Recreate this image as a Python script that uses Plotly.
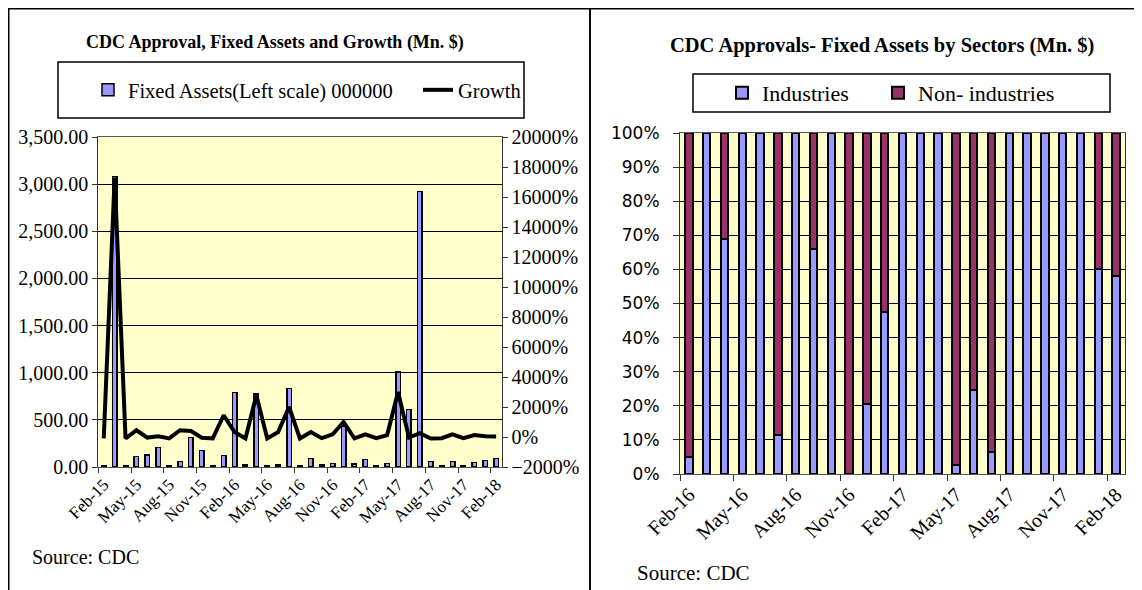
import plotly.graph_objects as go

# the page body has an 8px margin, so the figure is drawn 8px smaller
# and every reference pixel position is shifted by that offset
OFF = 8
W, H = 1142 - OFF, 590 - OFF

# left chart data (monthly, Feb-15 .. Feb-18)
months_left = ["Feb-15", "Mar-15", "Apr-15", "May-15", "Jun-15", "Jul-15", "Aug-15", "Sep-15", "Oct-15",
               "Nov-15", "Dec-15", "Jan-16", "Feb-16", "Mar-16", "Apr-16", "May-16", "Jun-16", "Jul-16",
               "Aug-16", "Sep-16", "Oct-16", "Nov-16", "Dec-16", "Jan-17", "Feb-17", "Mar-17", "Apr-17",
               "May-17", "Jun-17", "Jul-17", "Aug-17", "Sep-17", "Oct-17", "Nov-17", "Dec-17", "Jan-18",
               "Feb-18"]
fixed_assets = [10, 3080, 10, 110, 127, 209, 15, 56, 315, 173, 12, 124, 789, 20, 772, 10, 20, 835, 10,
                92, 21, 39, 435, 30, 82, 15, 35, 1005, 612, 2923, 56, 15, 56, 15, 46, 67, 92]
growth = [-90, 17300, -100, 450, -40, 50, -93, 450, 400, -45, -93, 1450, 330, -97, 2780, -99, 330, 2000,
          -99, 330, -77, 180, 1000, -93, 180, -80, 130, 3000, -40, 250, -98, -80, 180, -80, 130, 45, 40]

# right chart data (Feb-16 .. Feb-18), shares in %
months_right = ["Feb-16", "Mar-16", "Apr-16", "May-16", "Jun-16", "Jul-16", "Aug-16", "Sep-16", "Oct-16",
                "Nov-16", "Dec-16", "Jan-17", "Feb-17", "Mar-17", "Apr-17", "May-17", "Jun-17", "Jul-17",
                "Aug-17", "Sep-17", "Oct-17", "Nov-17", "Dec-17", "Jan-18", "Feb-18"]
industries = [5, 100, 69, 100, 100, 11.5, 100, 66, 100, 0, 20.5, 47.5, 100, 100, 100, 2.5, 24.5, 6.5,
              100, 100, 100, 100, 100, 60, 58]
non_industries = [95, 0, 31, 0, 0, 88.5, 0, 34, 0, 100, 79.5, 52.5, 0, 0, 0, 97.5, 75.5, 93.5,
                  0, 0, 0, 0, 0, 40, 42]

LAV = "#9999FF"
MAROON = "#993366"
SERIF = "Liberation Serif, Times New Roman, serif"


def px_x(x):
    return (x - OFF) / W


def px_y(y):
    return 1 - (y - OFF) / H


xl = list(range(len(months_left)))
xr = list(range(len(months_right)))

fig = go.Figure()

fig.add_trace(go.Bar(x=xl, y=fixed_assets, name="Fixed Assets(Left scale) 000000", width=0.42,
                     marker=dict(color=LAV, line=dict(color="black", width=1.5)),
                     xaxis="x", yaxis="y", legend="legend", showlegend=True))
fig.add_trace(go.Scatter(x=xl, y=growth, name="Growth", mode="lines",
                         line=dict(color="black", width=4),
                         xaxis="x", yaxis="y2", legend="legend3", showlegend=True))

fig.add_trace(go.Bar(x=xr, y=industries, name="Industries", width=0.42,
                     marker=dict(color=LAV, line=dict(color="black", width=2)),
                     xaxis="x3", yaxis="y3", legend="legend2", showlegend=True))
fig.add_trace(go.Bar(x=xr, y=non_industries, name="Non- industries", width=0.42,
                     marker=dict(color=MAROON, line=dict(color="black", width=2)),
                     xaxis="x3", yaxis="y3", legend="legend4", showlegend=True))


def legend_at(x, y, size):
    # one legend per item, so every key sits where the reference has it
    return dict(orientation="h", x=px_x(x), xanchor="left", y=px_y(y), yanchor="middle",
                bgcolor="rgba(0,0,0,0)", borderwidth=0, font=dict(size=size, family=SERIF))


fig.update_layout(
    width=W, height=H, autosize=False,
    margin=dict(l=0, r=0, t=0, b=0, pad=0, autoexpand=False),
    paper_bgcolor="white",
    plot_bgcolor="#FFFFCC",
    barmode="stack",
    showlegend=True,
    font=dict(family=SERIF, color="black", size=18),
    xaxis=dict(
        domain=[px_x(98.3), px_x(501.6)], anchor="y", automargin=False,
        range=[-0.5, len(months_left) - 0.5],
        tickmode="array", tickvals=xl[::3], ticktext=months_left[::3],
        tickangle=-45, ticks="", tickfont=dict(size=17),
        minor=dict(tick0=-0.5, dtick=3, ticks="outside", ticklen=5, tickcolor="#333", showgrid=False),
        showgrid=False, zeroline=False,
        showline=True, linecolor="#555", linewidth=1, mirror=True,
    ),
    yaxis=dict(
        domain=[px_y(467), px_y(137)], anchor="x", automargin=False,
        range=[0, 3500], dtick=500, tickformat=",.2f",
        tickfont=dict(size=20),
        ticks="outside", ticklen=5, tickcolor="#333",
        gridcolor="black", gridwidth=1, zeroline=False,
        showline=True, linecolor="#333", linewidth=1,
    ),
    yaxis2=dict(
        overlaying="y", side="right", anchor="x", automargin=False,
        range=[-2000, 20000], dtick=2000, tickformat="d", ticksuffix="%",
        tickfont=dict(size=20),
        ticks="outside", ticklen=5, tickcolor="#333",
        showgrid=False, zeroline=False,
        showline=True, linecolor="#333", linewidth=1,
    ),
    xaxis3=dict(
        domain=[px_x(680), px_x(1125)], anchor="y3", automargin=False,
        range=[-0.5, len(months_right) - 0.5],
        tickmode="array", tickvals=xr[::3], ticktext=months_right[::3],
        tickangle=-45, ticks="", tickfont=dict(size=20),
        minor=dict(tick0=-0.5, dtick=3, ticks="outside", ticklen=6, tickcolor="#333", showgrid=False),
        showgrid=False, zeroline=False,
        showline=True, linecolor="#555", linewidth=1, mirror=True,
    ),
    yaxis3=dict(
        domain=[px_y(474), px_y(133)], anchor="x3", automargin=False,
        range=[0, 100], dtick=10, ticksuffix="%",
        tickfont=dict(size=17, family="DejaVu Sans, Verdana, sans-serif"),
        ticks="outside", ticklen=6, tickcolor="#333", ticklabelstandoff=10,
        gridcolor="black", gridwidth=1, zeroline=False,
        showline=True, linecolor="#333", linewidth=1, mirror=True,
    ),
    legend=legend_at(88, 90, 20.5),
    legend3=legend_at(418, 90, 20.5),
    legend2=legend_at(722, 93, 22),
    legend4=legend_at(878, 93, 22),
)

# frames and legend boxes (reference pixel positions)
shapes = [
    dict(x0=OFF + 0.75, x1=590, y0=OFF + 0.75, y1=600),
    dict(x0=590, x1=1140, y0=OFF + 0.75, y1=600),
    dict(x0=58, x1=524, y0=62, y1=118),
    dict(x0=693, x1=1110, y0=74, y1=112),
]
for s in shapes:
    fig.add_shape(type="rect", xref="paper", yref="paper",
                  x0=px_x(s["x0"]), x1=px_x(s["x1"]), y0=px_y(s["y0"]), y1=px_y(s["y1"]),
                  line=dict(color="black", width=1.5), fillcolor="rgba(0,0,0,0)", layer="above")

texts = [
    ("<b>CDC Approval, Fixed Assets and Growth (Mn. $)</b>", 275, 42, 18, "center"),
    ("<b>CDC Approvals- Fixed Assets by Sectors (Mn. $)</b>", 882, 45, 20.5, "center"),
    ("Source: CDC", 30, 557, 20, "left"),
    ("Source: CDC", 635, 573, 21, "left"),
]
for text, x, y, size, anchor in texts:
    fig.add_annotation(text=text, xref="paper", yref="paper", x=px_x(x), y=px_y(y),
                       xanchor=anchor, yanchor="middle", showarrow=False,
                       font=dict(size=size, family=SERIF, color="black"))

fig.write_html("out.html")
